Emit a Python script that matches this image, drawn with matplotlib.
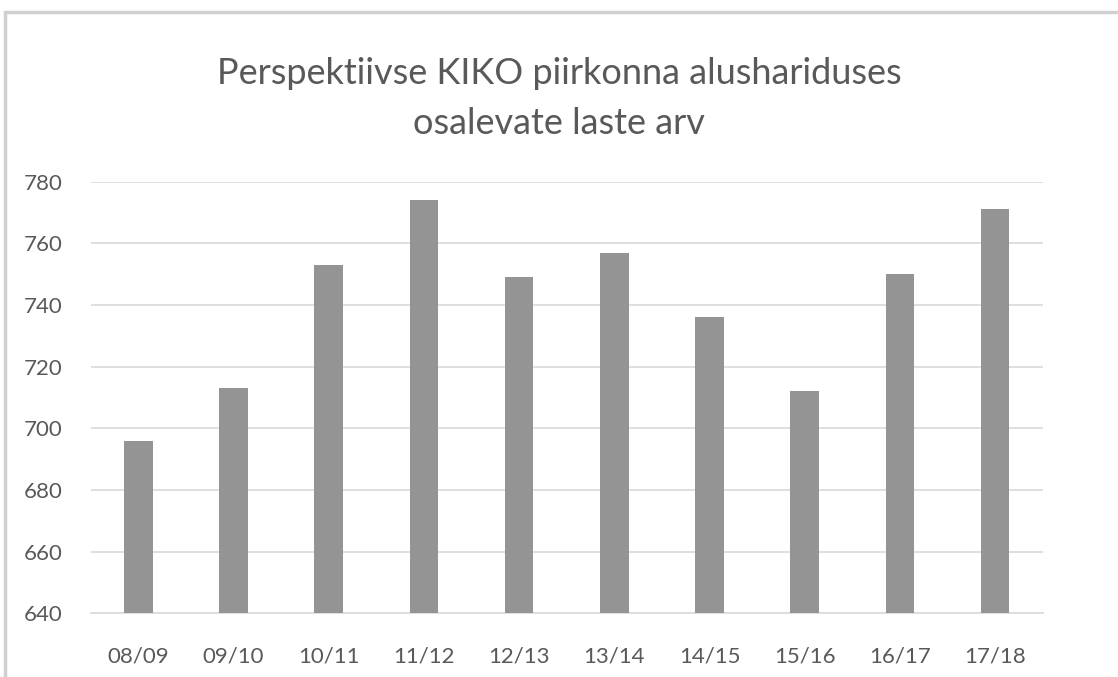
import matplotlib.pyplot as plt
from matplotlib.patches import Rectangle

seasons = ["08/09", "09/10", "10/11", "11/12", "12/13", "13/14", "14/15", "15/16", "16/17", "17/18"]
children = [696, 713, 753, 774, 749, 757, 736, 712, 750, 771]
yticks = [640, 660, 680, 700, 720, 740, 760, 780]

plt.rcParams['font.family'] = ['Lato', 'DejaVu Sans']

fig = plt.figure(figsize=(11.18, 6.77), dpi=100)
ax = fig.add_axes([0.0811, 0.094, 0.8516, 0.6376])

ax.bar(range(len(seasons)), children, width=0.3, color="#949494", zorder=3)

ax.set_ylim(640, 780)
ax.set_xlim(-0.5, len(seasons) - 0.5)
ax.set_yticks(yticks)
ax.set_xticks(range(len(seasons)))
ax.set_xticklabels(seasons, fontsize=15.5)
ax.grid(axis="y", color="#d9d9d9", linewidth=1.2, zorder=0)
ax.tick_params(axis="both", length=0, labelsize=16, colors="#595959")
ax.tick_params(axis="x", pad=24)
ax.tick_params(axis="y", pad=20)
for s in ["top", "right", "left"]:
    ax.spines[s].set_visible(False)
ax.spines["bottom"].set_color("#d9d9d9")
ax.spines["bottom"].set_linewidth(1.2)

fig.text(0.5, 0.892, "Perspektiivse KIKO piirkonna alushariduses", ha="center", va="center",
         fontsize=26, color="#595959")
fig.text(0.5, 0.818, "osalevate laste arv", ha="center", va="center",
         fontsize=26, color="#595959")

# chart frame
fig.patches.append(Rectangle((5 / 1118, -0.05), 1.2, 0.05 + 1 - 12 / 677,
                             transform=fig.transFigure, fill=False,
                             edgecolor="#d0d0d0", linewidth=2.5))

fig.savefig("out.png", dpi=100)
